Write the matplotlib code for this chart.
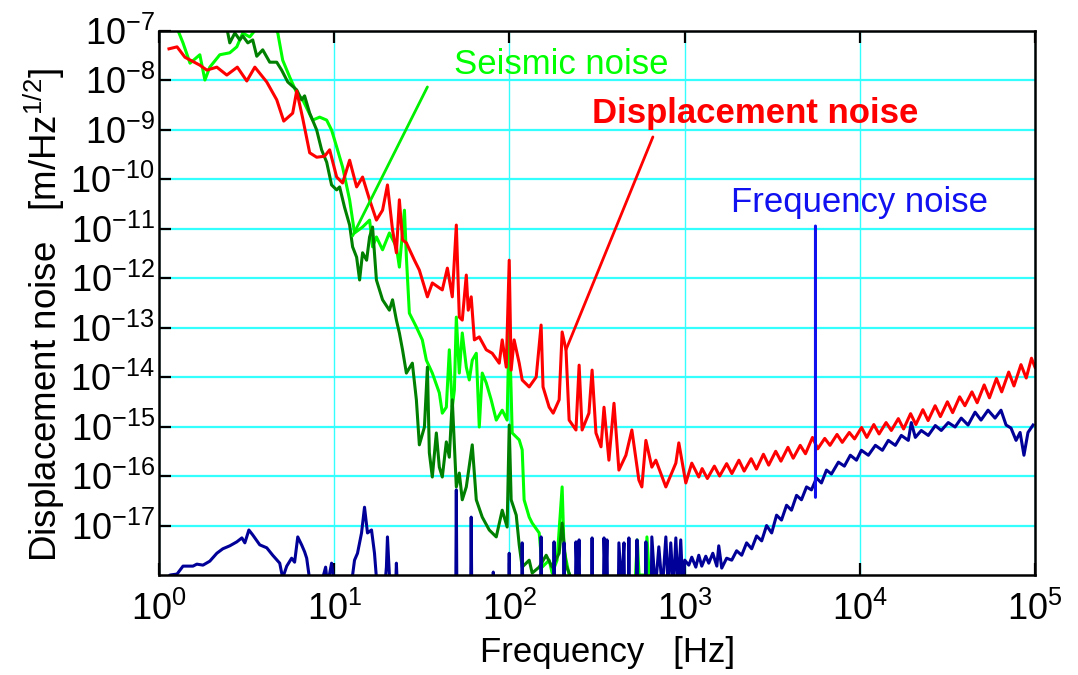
import numpy as np
import matplotlib
matplotlib.use("Agg")
import matplotlib.pyplot as plt
from matplotlib.ticker import FixedLocator, FuncFormatter, NullLocator

plt.rcParams['font.family'] = ['Liberation Sans', 'DejaVu Sans']
plt.rcParams['mathtext.fontset'] = 'custom'
plt.rcParams['mathtext.rm'] = 'Liberation Sans'
plt.rcParams['mathtext.it'] = 'Liberation Sans:italic'
plt.rcParams['mathtext.bf'] = 'Liberation Sans:bold'

# ---------------- data (log10 of frequency [Hz], log10 of noise [m/Hz^1/2]) ----------------
# Displacement noise (red)
disp_logf = [0.057, 0.103, 0.148, 0.233, 0.273, 0.330, 0.387, 0.447, 0.501, 0.547, 0.615, 0.672,
             0.712, 0.763, 0.786, 0.820, 0.860, 0.900, 0.945, 0.974, 1.014, 1.048, 1.088, 1.128,
             1.162, 1.202, 1.241, 1.276, 1.304, 1.333, 1.355, 1.372, 1.390, 1.412, 1.458, 1.486,
             1.532, 1.560, 1.617, 1.646, 1.674, 1.697, 1.714, 1.731, 1.754, 1.765, 1.782, 1.800,
             1.828, 1.868, 1.902, 1.942, 1.959, 1.982, 1.999, 2.010, 2.027, 2.056, 2.073, 2.113,
             2.153, 2.181, 2.192, 2.227, 2.250, 2.284, 2.301, 2.323, 2.341, 2.380, 2.398, 2.415,
             2.454, 2.472, 2.494, 2.523, 2.540, 2.568, 2.597, 2.625, 2.665, 2.699, 2.739, 2.756,
             2.779, 2.813, 2.836, 2.893, 2.950, 2.967, 3.007, 3.041, 3.081,
             3.10, 3.13, 3.17, 3.20, 3.24, 3.27, 3.31, 3.34, 3.38, 3.41, 3.45, 3.48, 3.52, 3.55,
             3.59, 3.62, 3.66, 3.69, 3.73, 3.76, 3.80, 3.83, 3.87, 3.90, 3.94, 3.97, 4.01, 4.04,
             4.08, 4.11, 4.15, 4.18, 4.22, 4.25, 4.29, 4.32, 4.36, 4.39, 4.43, 4.46, 4.50, 4.53,
             4.57, 4.60, 4.64, 4.67, 4.71, 4.74, 4.78, 4.81, 4.85, 4.88, 4.92, 4.95, 4.98, 5.00]
disp_logn = [-7.37, -7.33, -7.54, -7.70, -7.80, -7.74, -7.90, -7.74, -8.02, -7.74, -8.04, -8.40,
             -8.83, -8.67, -8.22, -8.77, -9.47, -9.56, -9.54, -9.41, -9.96, -10.08, -9.62, -10.16,
             -9.96, -10.42, -10.83, -10.63, -10.12, -11.03, -11.49, -10.42, -11.23, -11.29, -11.64, -11.84,
             -12.38, -12.10, -12.24, -11.80, -12.38, -10.93, -12.79, -12.85, -11.94, -12.65, -12.38, -13.25,
             -13.19, -13.45, -13.52, -13.72, -13.25, -13.80, -11.64, -13.86, -13.25, -13.72, -14.06, -14.20,
             -14.00, -12.95, -14.20, -14.61, -14.73, -14.46, -13.09, -13.45, -14.87, -15.07, -13.76, -15.07,
             -14.73, -13.86, -15.13, -15.41, -14.61, -15.68, -14.53, -15.88, -15.58, -15.07, -16.08, -16.22,
             -15.28, -15.82, -15.68, -16.22, -15.74, -15.33, -16.14, -15.74, -16.02,
             -15.85, -16.05, -15.80, -16.00, -15.75, -15.95, -15.68, -15.90, -15.65, -15.86, -15.56, -15.78, -15.50, -15.70,
             -15.42, -15.64, -15.38, -15.55, -15.22, -15.45, -15.24, -15.38, -15.16, -15.32, -15.12, -15.25, -15.02, -15.22,
             -14.96, -15.15, -14.92, -15.08, -14.84, -15.05, -14.74, -14.96, -14.66, -14.88, -14.58, -14.80, -14.50, -14.72,
             -14.40, -14.58, -14.30, -14.52, -14.16, -14.42, -14.03, -14.30, -13.90, -14.18, -13.75, -14.02, -13.62, -13.80]

# Seismic noise (light green)
seis_logf = [0.096, 0.137, 0.177, 0.233, 0.262, 0.290, 0.347, 0.404, 0.444, 0.478, 0.518, 0.558,
             0.592, 0.632, 0.661, 0.678, 0.706, 0.746, 0.786, 0.820, 0.877, 0.917, 0.957, 0.985,
             1.014, 1.048, 1.088, 1.116, 1.162, 1.202, 1.219, 1.241, 1.276, 1.315, 1.355, 1.372,
             1.401, 1.412, 1.429, 1.469, 1.503, 1.526, 1.560, 1.600, 1.617, 1.640, 1.657, 1.674,
             1.686, 1.697, 1.714, 1.731, 1.754, 1.771, 1.788, 1.811, 1.828, 1.845, 1.868, 1.896,
             1.925, 1.959, 1.987, 1.999, 2.016, 2.056, 2.073, 2.084, 2.113, 2.130, 2.170, 2.187,
             2.227, 2.244, 2.272, 2.301, 2.312, 2.341, 2.369, 2.680, 2.720, 2.730, 2.740, 2.780,
             2.785, 2.800, 3.080]
seis_logn = [-6.89, -7.25, -7.66, -7.49, -8.00, -7.74, -7.49, -7.45, -7.33, -7.05, -7.13, -6.95,
             -6.79, -6.99, -6.95, -7.05, -7.60, -7.94, -8.26, -8.40, -8.81, -8.75, -8.81, -9.01,
             -9.35, -9.76, -10.42, -11.09, -10.97, -10.83, -11.37, -11.17, -11.43, -11.09, -11.37, -11.78,
             -10.63, -11.58, -12.71, -12.99, -13.25, -13.66, -13.92, -14.32, -14.73, -14.61, -13.45, -14.61,
             -14.26, -12.79, -13.92, -13.11, -13.80, -14.06, -13.66, -13.52, -15.01, -13.92, -14.12, -14.46,
             -14.87, -14.67, -14.87, -12.85, -15.13, -15.27, -15.47, -16.48, -16.83, -16.95, -17.15, -17.84,
             -17.70, -17.96, -17.70, -16.22, -17.49, -18.00, -18.30, -18.50, -18.00, -17.29, -18.00, -18.00,
             -17.23, -18.10, -18.50]

# Seismic noise, second measurement (dark green)
seis2_logf = [0.387, 0.404, 0.433, 0.461, 0.478, 0.507, 0.535, 0.558, 0.592, 0.632, 0.672, 0.700,
              0.735, 0.786, 0.814, 0.831, 0.860, 0.900, 0.928, 0.957, 0.985, 1.014, 1.031, 1.059,
              1.088, 1.105, 1.128, 1.145, 1.162, 1.185, 1.202, 1.219, 1.241, 1.276, 1.315, 1.333,
              1.355, 1.372, 1.390, 1.412, 1.446, 1.469, 1.486, 1.515, 1.532, 1.543, 1.560, 1.583,
              1.600, 1.617, 1.640, 1.657, 1.674, 1.697, 1.714, 1.731, 1.754, 1.788, 1.811, 1.845,
              1.885, 1.925, 1.959, 1.987, 1.999, 2.010, 2.039, 2.056, 2.073, 2.113, 2.130, 2.170,
              2.210, 2.244, 2.284, 2.301, 2.323, 2.352, 2.400]
seis2_logn = [-6.95, -7.25, -7.05, -7.19, -7.11, -7.25, -7.19, -7.52, -7.39, -7.64, -7.64, -7.80,
              -8.04, -8.20, -8.40, -8.32, -8.67, -9.01, -9.41, -9.66, -10.12, -10.22, -10.16, -10.57,
              -10.93, -11.37, -11.58, -12.04, -11.49, -11.64, -11.17, -10.97, -12.04, -12.44, -12.65, -12.44,
              -12.85, -13.11, -13.45, -13.92, -13.72, -14.46, -15.37, -15.01, -13.80, -15.53, -16.02, -15.13,
              -15.82, -16.02, -15.31, -15.62, -14.46, -16.22, -15.94, -16.48, -16.22, -15.37, -16.48, -16.83,
              -17.09, -17.23, -16.69, -17.03, -14.97, -16.48, -16.79, -17.39, -17.84, -17.70, -17.96, -17.84,
              -17.60, -17.84, -17.56, -16.95, -17.80, -18.06, -18.50]

# Frequency noise (navy)
freq_logf = [0.034, 0.063, 0.103, 0.137, 0.194, 0.216, 0.251, 0.290, 0.330, 0.364, 0.404, 0.444,
             0.473, 0.490, 0.513, 0.535, 0.575, 0.615, 0.649, 0.689, 0.706, 0.729, 0.757, 0.774,
             0.792, 0.814, 0.831, 0.843, 0.860, 0.917, 0.951, 0.962, 0.985, 0.997, 1.088, 1.105,
             1.116, 1.133, 1.156, 1.173, 1.190, 1.213, 1.230, 1.241, 1.287, 1.298, 1.304, 1.315,
             1.350, 1.355, 1.361,
             1.694, 1.697, 1.700, 1.779, 1.782, 1.785, 1.905, 1.908, 1.911, 1.996, 1.999, 2.002,
             2.070, 2.073, 2.076, 2.178, 2.181, 2.184, 2.252, 2.255, 2.258, 2.309, 2.312, 2.315,
             2.377, 2.380, 2.389, 2.398, 2.401, 2.469, 2.472, 2.475, 2.537, 2.540, 2.549, 2.557,
             2.560, 2.622, 2.625, 2.640, 2.654, 2.657, 2.679, 2.682, 2.685, 2.725, 2.728, 2.731,
             2.776, 2.779, 2.782, 2.810, 2.813, 2.833, 2.853, 2.873, 2.893, 2.907, 2.921, 2.936,
             2.950, 2.964, 2.978, 2.990,
             3.001, 3.024, 3.041, 3.064, 3.081, 3.098, 3.121, 3.138, 3.161, 3.184, 3.195, 3.212,
             3.240, 3.269, 3.297, 3.326, 3.354, 3.383, 3.411, 3.440, 3.468, 3.497, 3.525, 3.553,
             3.582, 3.610, 3.639, 3.667, 3.696, 3.724, 3.753, 3.781, 3.810, 3.838, 3.878, 3.912,
             3.946, 3.981, 4.009, 4.049, 4.089, 4.129, 4.163, 4.203, 4.237, 4.277, 4.294, 4.317,
             4.351, 4.391, 4.431, 4.465, 4.505, 4.544, 4.579, 4.618, 4.658, 4.692, 4.732, 4.772,
             4.806, 4.835, 4.863, 4.892, 4.915, 4.937, 4.960, 4.989]
freq_logn = [-18.10, -18.00, -17.98, -17.82, -17.82, -17.78, -17.80, -17.72, -17.56, -17.47, -17.41, -17.33,
             -17.25, -17.35, -17.09, -17.19, -17.39, -17.45, -17.60, -17.76, -18.06, -17.82, -17.66, -17.74,
             -17.23, -17.39, -17.53, -17.66, -18.10, -18.30, -17.84, -18.20, -17.76, -18.10, -18.30, -18.00,
             -17.70, -17.56, -17.15, -16.63, -17.15, -17.09, -17.56, -18.06, -18.30, -17.84, -17.23, -18.00,
             -18.30, -17.76, -18.30,
             -18.30, -16.28, -18.30, -18.30, -16.83, -18.30, -18.30, -17.94, -18.30, -18.30, -17.56, -18.30,
             -18.30, -17.35, -18.30, -18.30, -17.23, -18.30, -18.30, -17.33, -18.30, -18.30, -17.35, -18.30,
             -18.30, -17.33, -18.30, -17.29, -18.30, -18.30, -17.25, -18.30, -18.30, -17.25, -18.30, -17.29,
             -18.30, -18.30, -17.35, -18.30, -17.35, -18.30, -18.30, -17.25, -18.30, -18.30, -17.29, -18.30,
             -18.30, -17.33, -18.30, -18.30, -17.23, -18.30, -17.43, -18.30, -17.23, -18.30, -17.35, -18.30,
             -17.25, -18.30, -17.29, -18.30,
             -17.70, -17.80, -17.64, -17.84, -17.60, -17.82, -17.62, -17.76, -17.56, -17.82, -17.41, -17.86,
             -17.66, -17.70, -17.51, -17.60, -17.35, -17.47, -17.21, -17.31, -17.00, -17.15, -16.79, -16.89,
             -16.59, -16.69, -16.39, -16.48, -16.22, -16.28, -16.04, -16.14, -15.88, -15.96, -15.72, -15.80,
             -15.58, -15.68, -15.48, -15.58, -15.38, -15.48, -15.28, -15.38, -15.18, -15.28, -14.92, -15.22,
             -15.08, -15.18, -14.98, -15.08, -14.92, -15.01, -14.83, -14.97, -14.71, -14.87, -14.67, -14.83,
             -14.67, -14.97, -15.03, -15.28, -15.12, -15.58, -15.12, -14.97]

x_tick_exp = [0, 1, 2, 3, 4, 5]
y_tick_exp = [-17, -16, -15, -14, -13, -12, -11, -10, -9, -8, -7]

labels = ["Seismic noise", "Displacement noise", "Frequency noise"]

# ---------------- figure ----------------
fig = plt.figure(figsize=(10.78, 6.75), dpi=100)
ax = fig.add_axes([0.1475, 0.1481, 0.8126, 0.8067])

def p(a):
    return np.power(10.0, np.asarray(a))

ax.plot(p(seis_logf), p(seis_logn), color='#00ff00', lw=2.2, zorder=3)
ax.plot(p(seis2_logf), p(seis2_logn), color='#008000', lw=2.2, zorder=4)
ax.plot(p(freq_logf), p(freq_logn), color='#000099', lw=2.2, zorder=5)
ax.plot(p(disp_logf), p(disp_logn), color='#ff0000', lw=2.2, zorder=6)

ax.set_xscale('log')
ax.set_yscale('log')
ax.set_xlim(1, 1e5)
ax.set_ylim(1e-18, 1e-7)

ax.xaxis.set_major_locator(FixedLocator(p(x_tick_exp)))
ax.yaxis.set_major_locator(FixedLocator(p(y_tick_exp)))
ax.xaxis.set_minor_locator(NullLocator())
ax.yaxis.set_minor_locator(NullLocator())
fmt = FuncFormatter(lambda v, pos: r'$10^{%d}$' % int(round(np.log10(v))))
ax.xaxis.set_major_formatter(fmt)
ax.yaxis.set_major_formatter(fmt)

ax.tick_params(axis='both', which='major', direction='in', length=8.6, width=1.6,
               labelsize=26, color='black')
ax.tick_params(axis='x', top=True, pad=12)
ax.tick_params(axis='y', pad=3)

ax.xaxis.grid(True, color='#33ffff', lw=1.0, zorder=1)
ax.yaxis.grid(True, color='#33ffff', lw=1.6, zorder=1)
ax.set_axisbelow(True)
for s in ax.spines.values():
    s.set_linewidth(1.8)
    s.set_zorder(8)

# annotations: text + pointer lines
ax.text(48.5, 1.32e-8, labels[0], color='#00ff00', fontsize=25, ha='left', va='baseline', zorder=9)
ax.text(296, 1.35e-9, labels[1], color='#ff0000', fontsize=25, fontweight='bold',
        ha='left', va='baseline', zorder=9)
ax.text(1833, 2.14e-11, labels[2], color='#1010f0', fontsize=25, ha='left', va='baseline', zorder=9)

ax.annotate('', xy=(p(1.105), p(-11.15)), xytext=(p(1.532), p(-8.14)),
            arrowprops=dict(arrowstyle='-', color='#00ee00', lw=2.0, shrinkA=0, shrinkB=0), zorder=9)
ax.annotate('', xy=(p(2.323), p(-13.45)), xytext=(p(2.819), p(-9.15)),
            arrowprops=dict(arrowstyle='-', color='#ff0000', lw=2.0, shrinkA=0, shrinkB=0), zorder=9)
ax.annotate('', xy=(p(3.747), p(-16.43)), xytext=(p(3.747), p(-10.95)),
            arrowprops=dict(arrowstyle='-', color='#1010ee', lw=2.2, shrinkA=0, shrinkB=0), zorder=9)

fig.text(608 / 1078, 1 - 662 / 675, 'Frequency   [Hz]', fontsize=25, ha='center', va='baseline')
fig.text(44 / 1078, 1 - 315 / 675, r'Displacement noise   [m/Hz$^{1/2}$]', fontsize=26.5,
         ha='center', va='center', rotation=90)

fig.savefig('out.png', dpi=100)
